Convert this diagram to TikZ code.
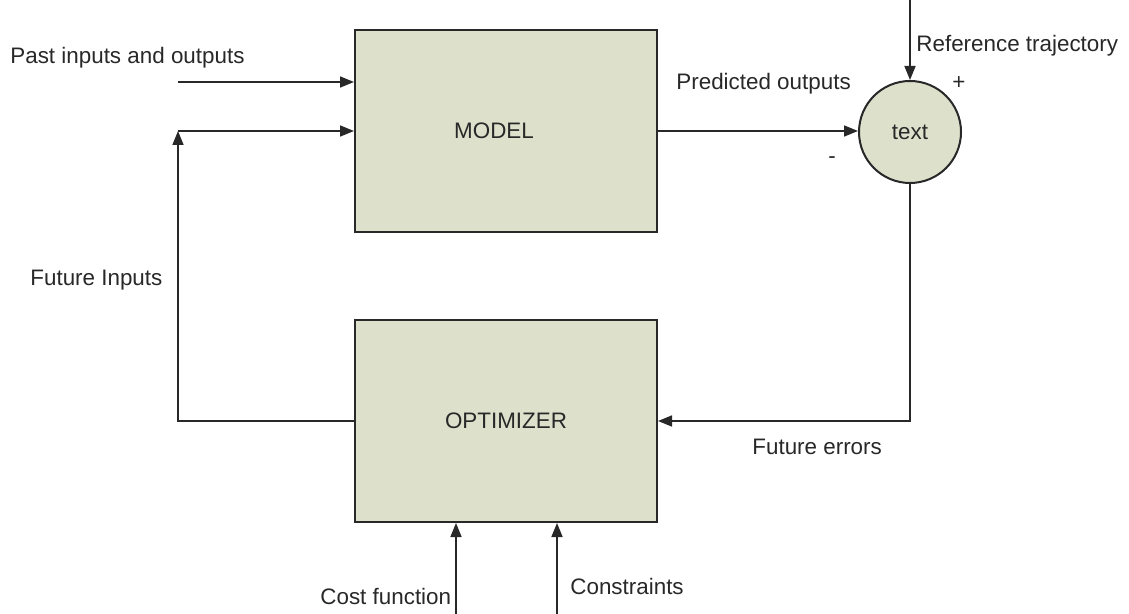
\documentclass[tikz,border=0pt]{standalone}
\usepackage{fontspec}
\setmainfont{Liberation Sans}
\usepackage{tikz}
\usetikzlibrary{arrows.meta}
\definecolor{boxfill}{RGB}{221,225,204}
\definecolor{ink}{RGB}{40,40,40}

\begin{document}
\begin{tikzpicture}[x=0.5pt,y=-0.5pt,
  every node/.style={font=\fontsize{11.2}{13}\selectfont,text=ink},
  block/.style={draw=ink,line width=1pt,fill=boxfill,minimum width=151pt,minimum height=101pt},
  sumnode/.style={circle,draw=ink,line width=1pt,fill=boxfill,minimum size=51pt,inner sep=0pt},
  lbl/.style={inner sep=0pt,anchor=base west},
  arr/.style={draw=ink,line width=0.8pt,-{Triangle[length=7pt,width=5.5pt]}}]
  \useasboundingbox (0,0) rectangle (1129,614);

  \node[block,label={[xshift=-6pt,text=ink]center:MODEL}] (model) at (506,131) {};
  \node[block] (opt) at (506,421) {OPTIMIZER};
  \node[sumnode] (sum) at (910,132) {text};

  \coordinate (past) at (178,82);
  \coordinate (fb)   at (178,131);
  \coordinate (fbl)  at (178,421);
  \coordinate (err)  at (910,421);
  \coordinate (ref)  at (910,0);
  \coordinate (cost) at (456,614);
  \coordinate (cons) at (557,614);

  \draw[arr] (past) -- (model.west |- past);
  \draw[arr] (fb) -- (model.west |- fb);
  \draw[arr] (opt.west) -- (fbl) -- (fb);
  \draw[arr] (model.east) -- (model.east -| sum.west);
  \draw[arr] (ref) -- (sum.north);
  \draw[arr] (sum.south) -- (err) -- (opt.east);
  \foreach \src in {cost,cons}
    \draw[arr] (\src) -- (\src |- opt.south);

  \node[lbl] (lpast) at (10,64)   {Past inputs and outputs};
  \node[lbl] (lpred) at (676,90)  {Predicted outputs};
  \node[lbl] (lref)  at (916,52)  {Reference trajectory};
  \node[lbl] (lfin)  at (30,286)  {Future Inputs};
  \node[lbl] (lferr) at (752,454) {Future errors};
  \node[lbl] (lcost) at (320,604) {Cost function};
  \node[lbl] (lcons) at (570,594) {Constraints};
  \node (plus)  at (959,83)  {+};
  \node (minus) at (832,160) {-};

\end{tikzpicture}
\end{document}
